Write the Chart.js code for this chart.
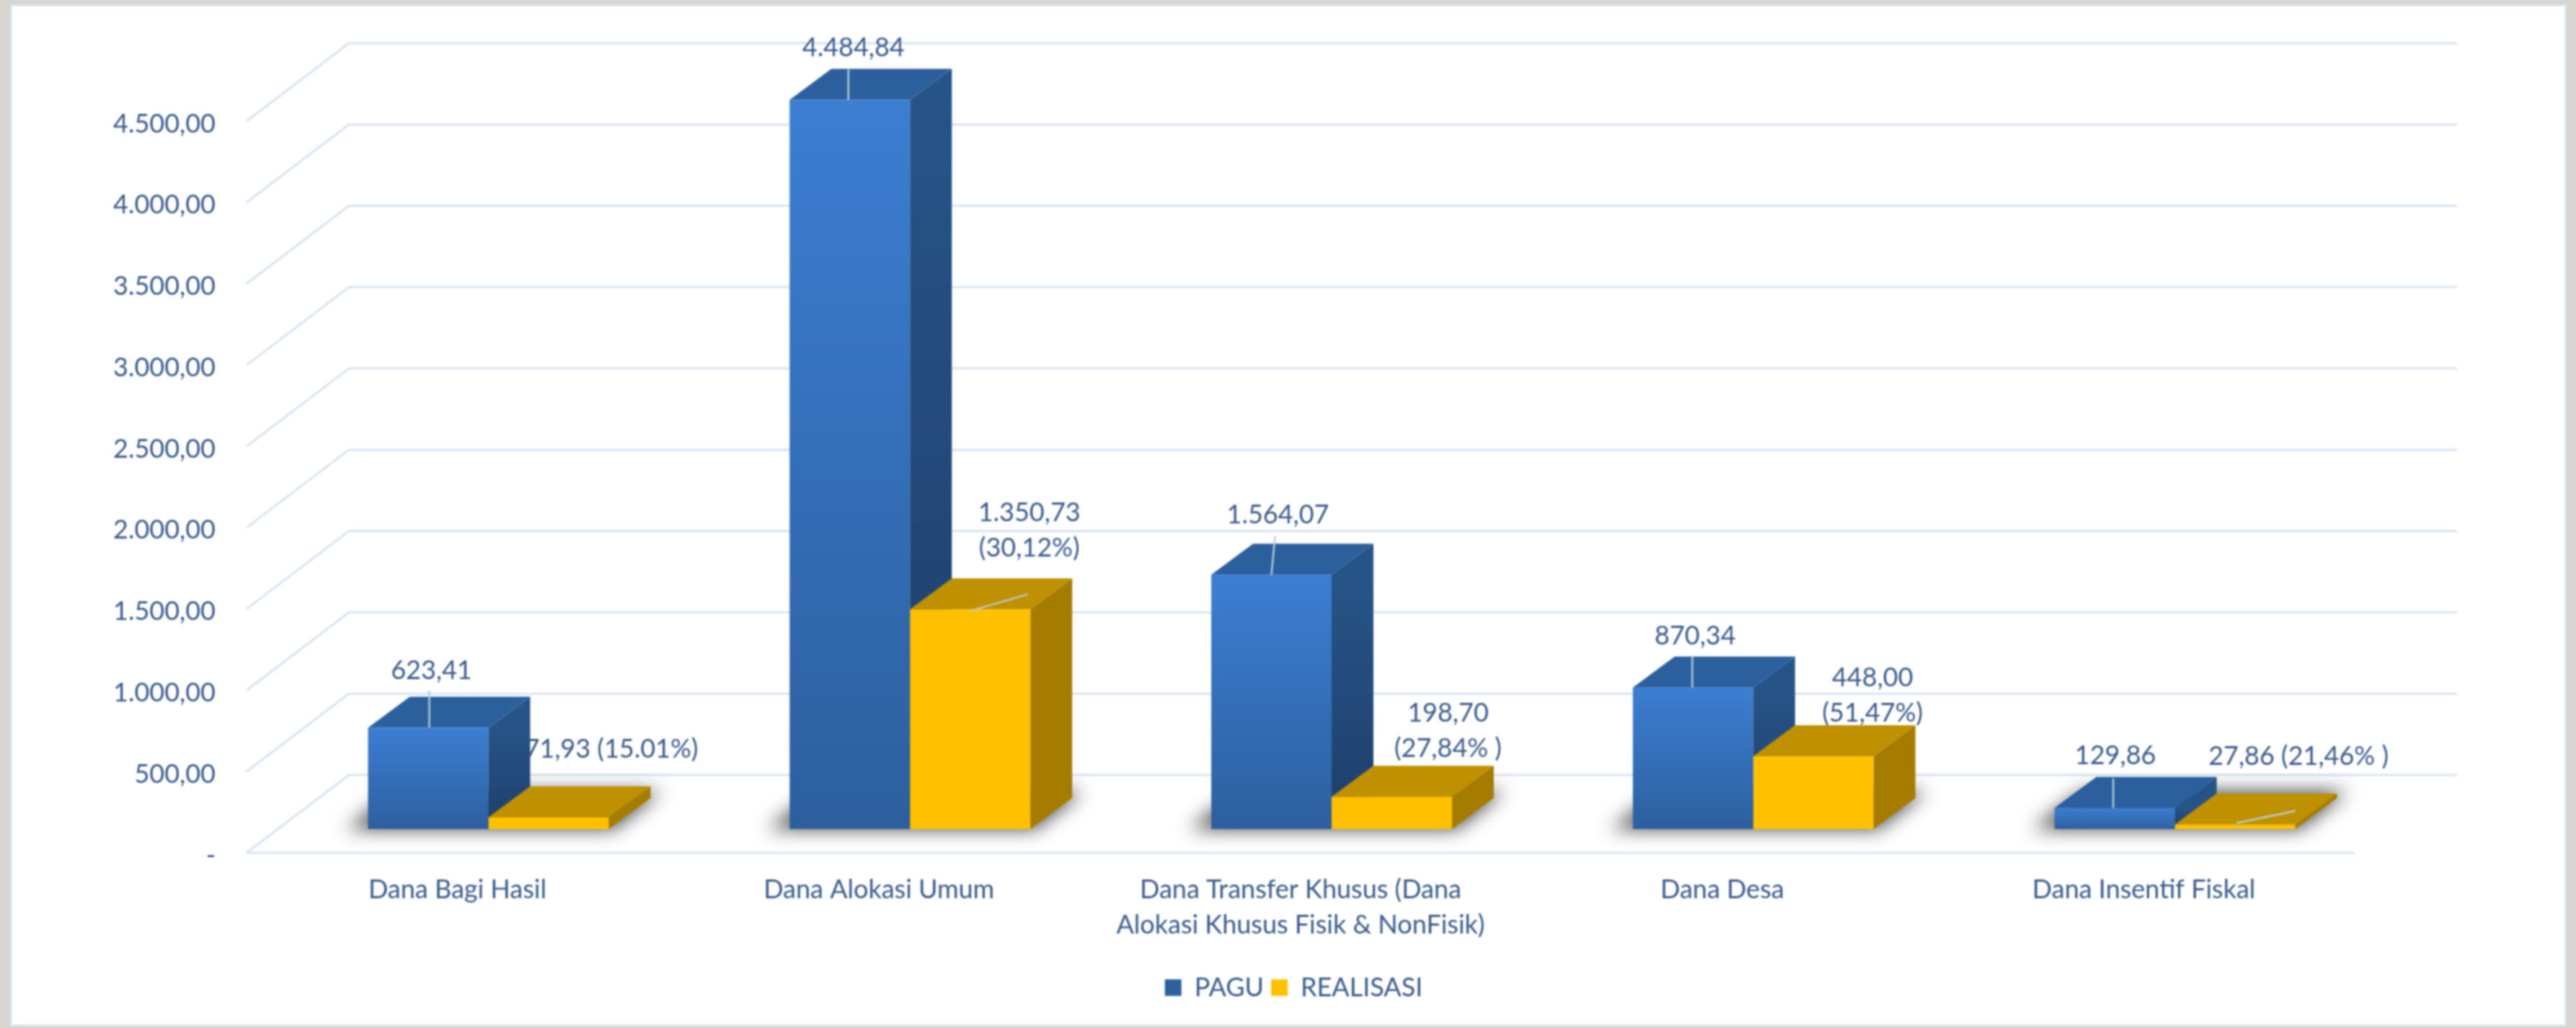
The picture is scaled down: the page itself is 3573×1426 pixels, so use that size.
<!DOCTYPE html>
<html><head><meta charset="utf-8">
<style>
html,body{margin:0;padding:0;width:3573px;height:1426px;background:#d8d4cf;overflow:hidden}
#frame{position:absolute;left:14px;top:6px;width:3546px;height:1418px;background:#fff;box-sizing:border-box;border:3px solid #dbe8f4}
#wrap{position:absolute;left:0;top:0;width:3573px;height:1426px;filter:blur(1px)}
</style>
<script src="https://cdn.jsdelivr.net/npm/chart.js@4"></script>
</head><body>
<div id="frame"></div>
<div id="wrap"><canvas id="c" width="3573" height="1426" style="width:3573px;height:1426px"></canvas></div>
<script>
const categories = ["Dana Bagi Hasil","Dana Alokasi Umum",["Dana Transfer Khusus (Dana","Alokasi Khusus Fisik & NonFisik)"],"Dana Desa","Dana Insentif Fiskal"];
const pagu = [623.41,4484.84,1564.07,870.34,129.86];
const realisasi = [71.93,1350.73,198.70,448.00,27.86];
const paguLabels = ["623,41","4.484,84","1.564,07","870,34","129,86"];
const realisasiLabels = ["71,93 (15.01%)",["1.350,73","(30,12%)"],["198,70","(27,84% )"],["448,00","(51,47%)"],"27,86 (21,46% )"];
const yTickLabels = ["-","500,00","1.000,00","1.500,00","2.000,00","2.500,00","3.000,00","3.500,00","4.000,00","4.500,00"];

const TEXT = '#37598c', FONT = 'Lato, Carlito, sans-serif', FS = 36, LINE = 49;
const DEPTH = [58,-43];              // bar depth
const FLOOR_BACK = [99,-75], FLOOR_FRONT = [-43,33]; // floor edges relative to the bars' plane
const labelOff = [[[4.5,-79],[5,-72],[9,-83],[3,-71],[1,-72]],
                  [[87,-94],[82,-109],[78,-91.5],[82,-84],[88,-94]]];
const leaderOff = [[[1.5,0,1.5,-52],[-2,0,-2,-44],[0,0,5,-54],[-1,0,-1,-43],[-2,0,-2,-41]],
                   [null,[0,2,80,-21],null,null,[2,-2,84,-19]]];
const behind = [[],[0]]; // labels that sit behind the bars

function poly(ctx,pts,fill){ctx.beginPath();pts.forEach((p,i)=>i?ctx.lineTo(p[0],p[1]):ctx.moveTo(p[0],p[1]));ctx.closePath();ctx.fillStyle=fill;ctx.fill();}
function drawLabel(ctx,txt,x,y){
  ctx.save();ctx.fillStyle=TEXT;ctx.font=FS+'px '+FONT;ctx.textAlign='center';ctx.textBaseline='middle';
  const a=Array.isArray(txt)?txt:[txt];
  a.forEach((t,i)=>ctx.fillText(t,x,y+(i-(a.length-1)/2)*LINE));ctx.restore();
}
const labelSets=[paguLabels,realisasiLabels];
const scene = {
  id:'scene',
  beforeDatasetsDraw(chart){
    const {ctx,scales:{x,y}}=chart;
    ctx.save();
    // grid
    ctx.strokeStyle='#d6e4f4';ctx.lineWidth=3;ctx.lineJoin='round';
    const L=x.left,R=x.right;
    y.ticks.forEach(t=>{
      const p=y.getPixelForValue(t.value);
      ctx.beginPath();
      ctx.moveTo(L+FLOOR_FRONT[0],p+FLOOR_FRONT[1]);
      ctx.lineTo(L+FLOOR_BACK[0],p+FLOOR_BACK[1]);
      ctx.lineTo(R+FLOOR_BACK[0],p+FLOOR_BACK[1]);
      ctx.stroke();
    });
    const p0=y.getPixelForValue(0)+FLOOR_FRONT[1];
    ctx.beginPath();ctx.moveTo(L+FLOOR_FRONT[0],p0);ctx.lineTo(R+FLOOR_FRONT[0],p0);ctx.stroke();
    // soft floor shadows: only the blurred shadow of an off-canvas shape is painted
    const m0=chart.getDatasetMeta(0).data, m1=chart.getDatasetMeta(1).data, OFF=6000;
    m0.forEach((b,i)=>{
      const l=b.x-b.width/2, r=m1[i].x+m1[i].width/2, yb=b.base;
      ctx.save();ctx.shadowColor='rgba(60,60,60,.95)';ctx.shadowBlur=26;ctx.shadowOffsetX=OFF;
      poly(ctx,[[l-30-OFF,yb],[r+6-OFF,yb],[r+72-OFF,yb-52],[l+40-OFF,yb-52]],'#000');
      ctx.restore();
    });
    ctx.restore();
    behind.forEach((arr,ds)=>arr.forEach(i=>{
      const b=chart.getDatasetMeta(ds).data[i],o=labelOff[ds][i];
      drawLabel(ctx,labelSets[ds][i],b.x+o[0],b.y+o[1]);
    }));
    // depth faces: blue first, so the gold faces and fronts sit over them
    const [dx,dy]=DEPTH;
    [0,1].forEach(ds=>chart.getDatasetMeta(ds).data.forEach(b=>{
      const l=b.x-b.width/2,r=b.x+b.width/2,t=b.y,bt=b.base;
      let side='#a67c00',top='#bf9000';
      if(ds===0){
        side=ctx.createLinearGradient(0,t,0,bt);side.addColorStop(0,'#275488');side.addColorStop(1,'#1e3f6b');
        top='#2b5f9e';
      }
      poly(ctx,[[r,t],[r+dx,t+dy],[r+dx,bt+dy],[r,bt]],side);
      poly(ctx,[[l,t],[l+dx,t+dy],[r+dx,t+dy],[r,t]],top);
    }));
  },
  afterDatasetsDraw(chart){
    const {ctx}=chart;
    labelSets.forEach((set,ds)=>{
      const data=chart.getDatasetMeta(ds).data;
      data.forEach((b,i)=>{
        const q=leaderOff[ds][i];
        if(q){ctx.save();ctx.strokeStyle='#b7ced9';ctx.lineWidth=2.5;ctx.beginPath();ctx.moveTo(b.x+q[0],b.y+q[1]);ctx.lineTo(b.x+q[2],b.y+q[3]);ctx.stroke();ctx.restore();}
        if(!behind[ds].includes(i)){const o=labelOff[ds][i];drawLabel(ctx,set[i],b.x+o[0],b.y+o[1]);}
      });
    });
  }
};
function blueFill(c){
  if(c.type!=='data'||!c.chart.chartArea) return '#2f68b0';
  const y=c.chart.scales.y,g=c.chart.ctx.createLinearGradient(0,y.getPixelForValue(c.raw),0,y.getPixelForValue(0));
  g.addColorStop(0,'#3c7ed2');g.addColorStop(1,'#2d5f9f');return g;
}
new Chart(document.getElementById('c'),{
  type:'bar',
  data:{labels:categories,datasets:[
    {label:'PAGU',data:pagu,backgroundColor:blueFill,yAxisID:'y'},
    {label:'REALISASI',data:realisasi,backgroundColor:'#FFC000',yAxisID:'y'}
  ]},
  plugins:[scene],
  options:{
    responsive:false,animation:false,devicePixelRatio:1,
    layout:{padding:{left:16,right:0,top:135,bottom:28}},
    datasets:{bar:{categoryPercentage:0.571,barPercentage:1,borderWidth:0}},
    plugins:{
      tooltip:{enabled:false},
      legend:{position:'bottom',labels:{boxWidth:23,boxHeight:23,padding:10,color:TEXT,font:{family:FONT,size:FS}}}
    },
    scales:{
      x:{grid:{display:false},border:{display:false},
        ticks:{color:TEXT,font:{family:FONT,size:FS,lineHeight:49/36},padding:52,labelOffset:-43,autoSkip:false,maxRotation:0,minRotation:0},
        afterFit(s){s.height=1343-1151;}},
      y:{min:0,max:4500,grid:{display:false},border:{display:false},
        ticks:{stepSize:500,color:TEXT,font:{family:FONT,size:FS},padding:78,labelOffset:37,callback:(v,i)=>yTickLabels[i]},
        afterFit(s){s.width=369;}},
      spacer:{position:'right',display:true,grid:{display:false},border:{display:false},ticks:{display:false},afterFit(s){s.width=264;}}
    }
  }
});
</script>
</body></html>
